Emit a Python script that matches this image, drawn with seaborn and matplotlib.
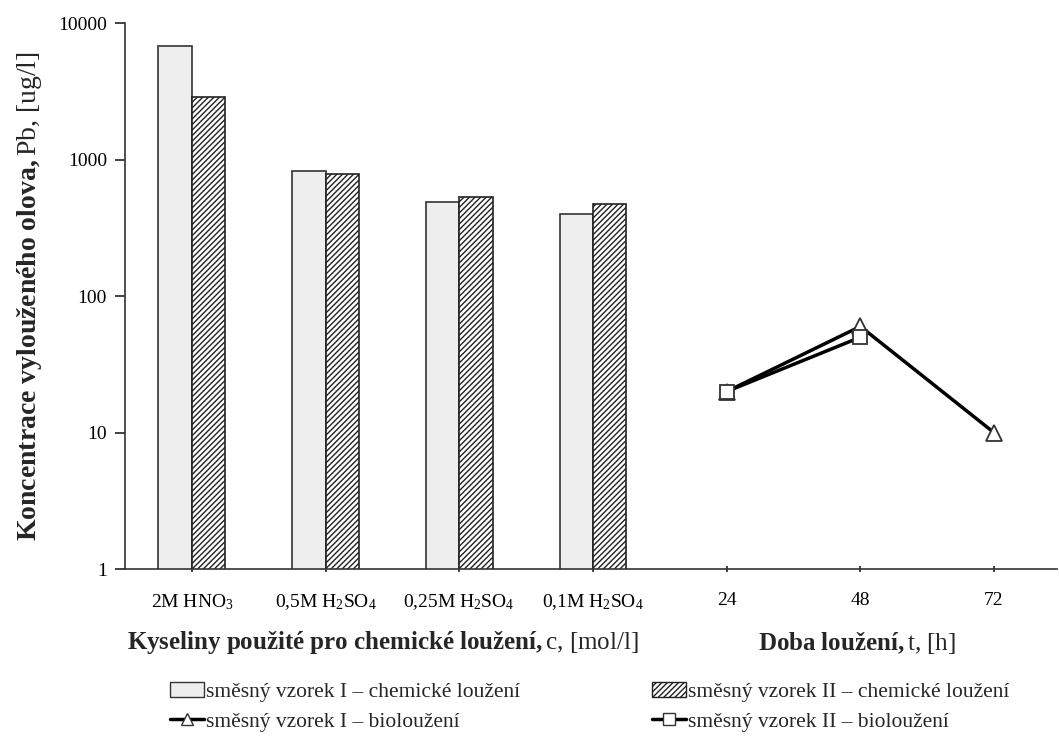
import numpy as np
import pandas as pd
import matplotlib.pyplot as plt
import seaborn as sns
from matplotlib.patches import Patch
from matplotlib.lines import Line2D

# data
acids = ['2M HNO$_3$', '0,5M H$_2$SO$_4$', '0,25M H$_2$SO$_4$', '0,1M H$_2$SO$_4$']
times = ['24', '48', '72']
chem_I = [6800, 830, 492, 402]
chem_II = [2870, 790, 535, 470]
bio_I = [20, 60, 10]
bio_II = [20, 50, np.nan]

lab_chem_I = 'směsný vzorek I – chemické loužení'
lab_chem_II = 'směsný vzorek II – chemické loužení'
lab_bio_I = 'směsný vzorek I – bioloužení'
lab_bio_II = 'směsný vzorek II – bioloužení'

sns.set_style('ticks')
plt.rcParams['font.family'] = ['Liberation Serif', 'DejaVu Serif']
plt.rcParams['mathtext.fontset'] = 'custom'
plt.rcParams['mathtext.rm'] = 'Liberation Serif'
plt.rcParams['mathtext.it'] = 'Liberation Serif:italic'
plt.rcParams['mathtext.bf'] = 'Liberation Serif:bold'
plt.rcParams['hatch.linewidth'] = 1.0

all_cats = acids + times
df = pd.DataFrame({
    'cat': acids * 2,
    'value': chem_I + chem_II,
    'sample': [lab_chem_I] * 4 + [lab_chem_II] * 4,
})

fig = plt.figure(figsize=(10.59, 7.45), dpi=100)
ax = fig.add_axes([0.118, 0.236, 0.88, 0.733])

sns.barplot(data=df, x='cat', y='value', hue='sample', order=all_cats,
            hue_order=[lab_chem_I, lab_chem_II], dodge=True, width=0.5,
            palette=['#eeeeee', 'white'], edgecolor='#333333', linewidth=1.2,
            legend=False, ax=ax, errorbar=None)

# second hue -> hatched bars
n_acid = len(acids)
for i, p in enumerate(ax.patches):
    if i >= n_acid:
        p.set_hatch('//////')
        p.set_edgecolor('#222222')

xpos = [all_cats.index(t) for t in times]
ax.plot(xpos, bio_I, color='black', lw=2.5, marker='^', ms=11,
        mfc='white', mec='#333333', mew=1.3, zorder=3)
ax.plot(xpos, bio_II, color='black', lw=2.5, marker='s', ms=10,
        mfc='white', mec='#333333', mew=1.3, zorder=4)

ax.set_yscale('log')
ax.set_ylim(1, 10000)
ax.set_yticks([1, 10, 100, 1000, 10000])
ax.set_yticklabels(['1', '10', '100', '1000', '10000'])
ax.minorticks_off()
ax.set_xlim(-0.5, 6.47)
ax.set_xticks(range(len(all_cats)))
ax.set_xticklabels(all_cats)
ax.tick_params(axis='both', labelsize=14, colors='#222222', labelcolor='black')
ax.tick_params(axis='y', length=7, width=1.2, pad=6)
ax.tick_params(axis='x', length=5, width=1.2, direction='inout', pad=14)
for s in ['left', 'bottom']:
    ax.spines[s].set_color('#333333')
    ax.spines[s].set_linewidth(1.2)
sns.despine(ax=ax)

ax.set_xlabel('')
ax.set_ylabel(r'$\bf{Koncentrace\ vylouženého\ olova,}$Pb, [ug/l]', fontsize=20, labelpad=10)

fig.text(0.362, 0.137, r'$\bf{Kyseliny\ použité\ pro\ chemické\ loužení,}$c, [mol/l]',
         ha='center', va='center', fontsize=18)
fig.text(0.809, 0.137, r'$\bf{Doba\ loužení,}$t, [h]',
         ha='center', va='center', fontsize=18)

handles = [
    Patch(facecolor='#eeeeee', edgecolor='#333333', label=lab_chem_I),
    Line2D([], [], color='black', lw=2.5, marker='^', ms=9, mfc='white', mec='#333333', label=lab_bio_I),
    Patch(facecolor='white', edgecolor='#222222', hatch='//////', label=lab_chem_II),
    Line2D([], [], color='black', lw=2.5, marker='s', ms=8, mfc='white', mec='#333333', label=lab_bio_II),
]
fig.legend(handles=handles, ncol=2, loc='center left', bbox_to_anchor=(0.142, 0.051),
           frameon=False, fontsize=15.5, columnspacing=6.1, handlelength=1.6,
           handletextpad=0.1, labelspacing=0.45)

fig.savefig('out.png', dpi=100)
